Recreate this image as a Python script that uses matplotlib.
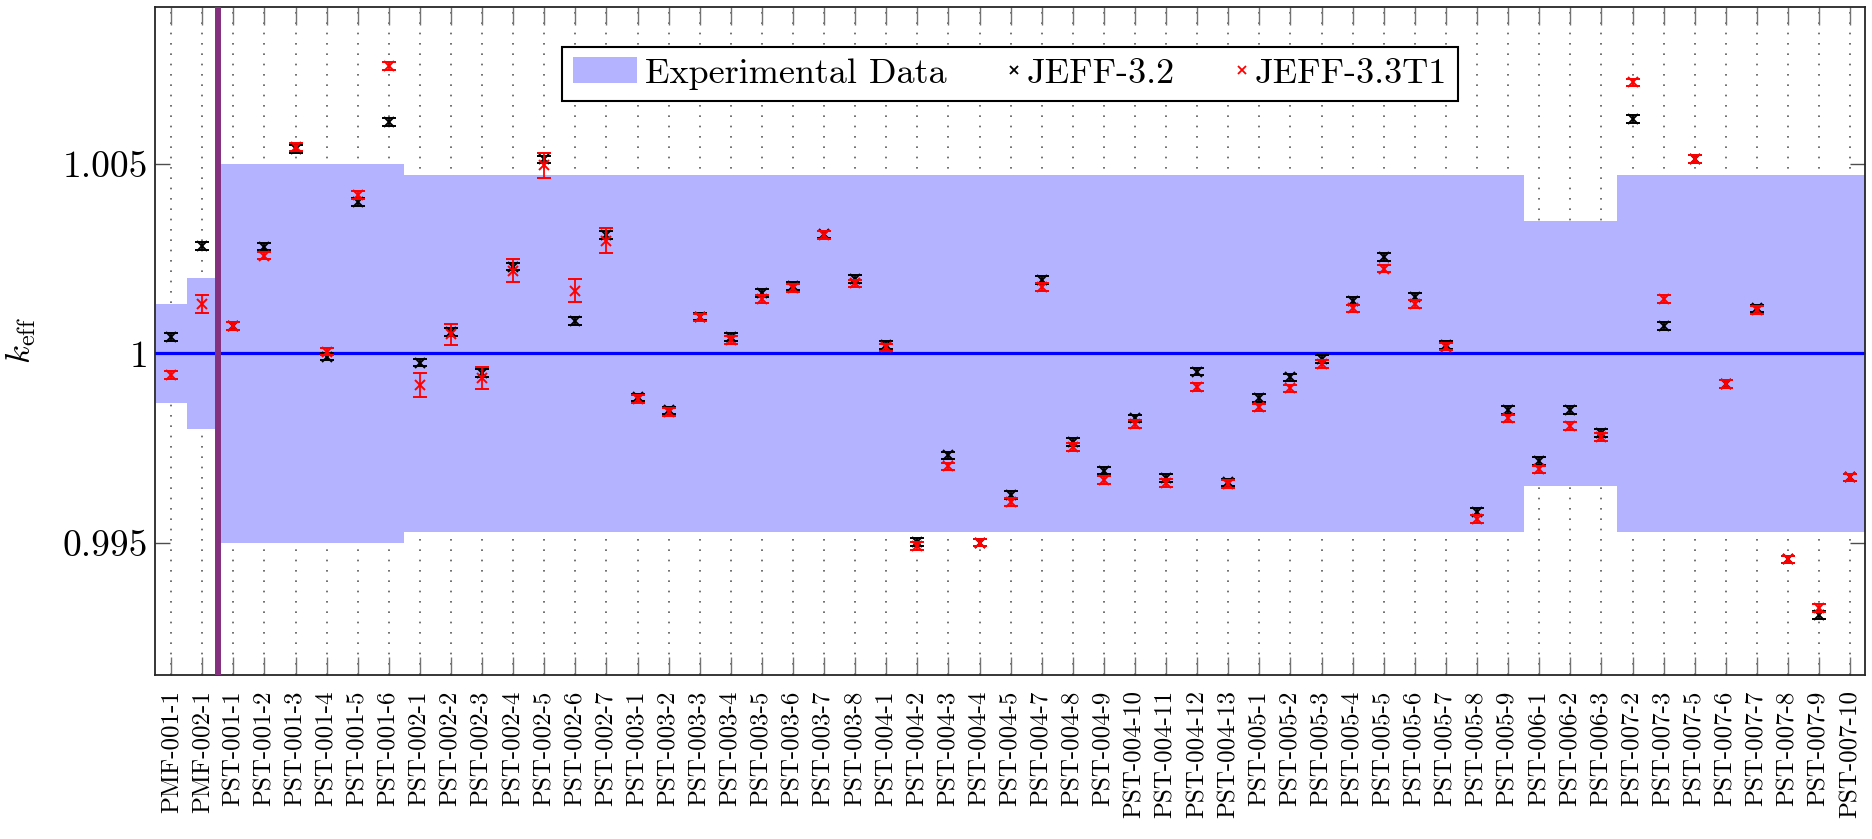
import numpy as np
import matplotlib
matplotlib.use("Agg")
import matplotlib.pyplot as plt
from matplotlib.lines import Line2D
from matplotlib.patches import Patch
from matplotlib.legend_handler import HandlerBase

plt.rcParams.update({
    "font.family": "serif",
    "font.serif": ["cmr10"],
    "mathtext.fontset": "cm",
    "axes.formatter.use_mathtext": True,
    "axes.unicode_minus": False,
})

# benchmark cases (x axis)
cases = [
    "PMF-001-1", "PMF-002-1",
    "PST-001-1", "PST-001-2", "PST-001-3", "PST-001-4", "PST-001-5", "PST-001-6",
    "PST-002-1", "PST-002-2", "PST-002-3", "PST-002-4", "PST-002-5", "PST-002-6", "PST-002-7",
    "PST-003-1", "PST-003-2", "PST-003-3", "PST-003-4", "PST-003-5", "PST-003-6", "PST-003-7",
    "PST-003-8",
    "PST-004-1", "PST-004-2", "PST-004-3", "PST-004-4", "PST-004-5", "PST-004-7", "PST-004-8",
    "PST-004-9", "PST-004-10", "PST-004-11", "PST-004-12", "PST-004-13",
    "PST-005-1", "PST-005-2", "PST-005-3", "PST-005-4", "PST-005-5", "PST-005-6", "PST-005-7",
    "PST-005-8", "PST-005-9",
    "PST-006-1", "PST-006-2", "PST-006-3",
    "PST-007-2", "PST-007-3", "PST-007-5", "PST-007-6", "PST-007-7", "PST-007-8", "PST-007-9",
    "PST-007-10",
]

# experimental 1-sigma uncertainty on k_eff (band around 1)
exp_unc = [
    0.0013, 0.0020,
    0.0050, 0.0050, 0.0050, 0.0050, 0.0050, 0.0050,
    0.0047, 0.0047, 0.0047, 0.0047, 0.0047, 0.0047, 0.0047,
    0.0047, 0.0047, 0.0047, 0.0047, 0.0047, 0.0047, 0.0047, 0.0047,
    0.0047, 0.0047, 0.0047, 0.0047, 0.0047, 0.0047, 0.0047, 0.0047, 0.0047, 0.0047,
    0.0047, 0.0047,
    0.0047, 0.0047, 0.0047, 0.0047, 0.0047, 0.0047, 0.0047, 0.0047, 0.0047,
    0.0035, 0.0035, 0.0035,
    0.0047, 0.0047, 0.0047, 0.0047, 0.0047, 0.0047, 0.0047, 0.0047,
]

k_jeff32 = [
    1.00043, 1.00284,
    1.00073, 1.00282, 1.00540, 0.99992, 1.00400, 1.00610,
    0.99976, 1.00056, 0.99948, 1.00229, 1.00512, 1.00086, 1.00313,
    0.99884, 0.99850, 1.00097, 1.00043, 1.00160, 1.00178, 1.00314, 1.00196,
    1.00022, 0.99502, 0.99731, 0.99501, 0.99627, 1.00194, 0.99767, 0.99691, 0.99829, 0.99671,
    0.99952, 0.99660,
    0.99882, 0.99937, 0.99985, 1.00138, 1.00255, 1.00150, 1.00022, 0.99583, 0.99851,
    0.99716, 0.99851, 0.99791,
    1.00618, 1.00073, 1.00513, 0.99920, 1.00119, 0.99457, 0.99310, 0.99673,
]
err_jeff32 = [0.0001] * len(k_jeff32)

k_jeff33 = [
    0.99943, 1.00131,
    1.00073, 1.00258, 1.00545, 1.00005, 1.00418, 1.00759,
    0.99917, 1.00051, 0.99935, 1.00218, 1.00496, 1.00166, 1.00298,
    0.99880, 0.99846, 1.00095, 1.00036, 1.00143, 1.00172, 1.00312, 1.00185,
    1.00016, 0.99492, 0.99702, 0.99501, 0.99609, 1.00175, 0.99754, 0.99666, 0.99814, 0.99658,
    0.99911, 0.99656,
    0.99858, 0.99908, 0.99972, 1.00119, 1.00224, 1.00131, 1.00018, 0.99563, 0.99829,
    0.99694, 0.99809, 0.99779,
    1.00715, 1.00143, 1.00513, 0.99920, 1.00115, 0.99457, 0.99328, 0.99673,
]
err_jeff33 = [
    0.0001, 0.00024,
    0.0001, 0.0001, 0.0001, 0.0001, 0.0001, 0.0001,
    0.00031, 0.00028, 0.00030, 0.00030, 0.00032, 0.00031, 0.00032,
    0.0001, 0.0001, 0.0001, 0.0001, 0.0001, 0.0001, 0.0001, 0.0001,
    0.0001, 0.0001, 0.0001, 0.0001, 0.0001, 0.0001, 0.0001, 0.0001, 0.0001, 0.0001,
    0.0001, 0.0001,
    0.0001, 0.0001, 0.0001, 0.0001, 0.0001, 0.0001, 0.0001, 0.0001, 0.0001,
    0.0001, 0.0001, 0.0001,
    0.0001, 0.0001, 0.0001, 0.0001, 0.0001, 0.0001, 0.0001, 0.0001,
]

BAND = "#b3b3ff"
PURPLE = "#84307f"


class MarkerAtRight(HandlerBase):
    """Legend handle with the marker pushed against the label (pgfplots look)."""

    def create_artists(self, legend, orig_handle, xdescent, ydescent,
                       width, height, fontsize, trans):
        xm = -xdescent + width - 0.12 * fontsize
        ym = -ydescent + 0.5 * height
        m = Line2D([xm], [ym], ls="none", marker=orig_handle.get_marker(),
                   color=orig_handle.get_color(), ms=orig_handle.get_markersize(),
                   mew=orig_handle.get_markeredgewidth(), transform=trans)
        return [m]


x = np.arange(len(cases))
unc = np.asarray(exp_unc)

fig = plt.figure(figsize=(18.72, 8.39), dpi=100)
ax = fig.add_axes([0.0828, 0.1955, 0.9135, 0.7962])

# experimental band as steps centred on each case
edges = np.arange(len(cases) + 1) - 0.5
ax.stairs(1 + unc, edges, baseline=1 - unc, fill=True, color=BAND, lw=0, zorder=1)
ax.axhline(1.0, color="blue", lw=2.3, zorder=2)
ax.axvline(1.5, color=PURPLE, lw=4.3, zorder=3)

ax.errorbar(x, k_jeff32, yerr=err_jeff32, fmt="x", color="black", ms=6.5, mew=1.4,
            elinewidth=1.3, capsize=5, capthick=1.4, zorder=4)
ax.errorbar(x, k_jeff33, yerr=err_jeff33, fmt="x", color="red", ms=6.5, mew=1.4,
            elinewidth=1.3, capsize=5, capthick=1.4, zorder=5)

ax.set_xlim(-0.52, len(cases) - 0.52)
ax.set_ylim(0.99152, 1.00914)
ax.set_xticks(x)
ax.set_xticklabels(cases, rotation=90, fontsize=18)
ax.set_yticks([0.995, 1.0, 1.005])
ax.set_yticklabels(["0.995", "1", "1.005"], fontsize=27)
ax.set_ylabel(r"$k_{\rm eff}$", fontsize=25, labelpad=18)

ax.set_axisbelow(True)
ax.grid(True, axis="x", color="0.35", lw=1.2, ls=(0, (1, 5.2)))
ax.tick_params(axis="x", direction="in", top=True, length=13, width=1.0,
               color="0.45", pad=11)
ax.tick_params(axis="y", direction="in", right=True, length=11, width=1.0,
               color="0.3", pad=5)
for sp in ax.spines.values():
    sp.set_linewidth(1.3)
    sp.set_color("0.15")

band_handle = Patch(facecolor=BAND, edgecolor="none")
m32 = Line2D([], [], ls="none", marker="x", color="black", ms=6, mew=1.3)
m33 = Line2D([], [], ls="none", marker="x", color="red", ms=6, mew=1.3)
leg = ax.legend([band_handle, m32, m33], ["Experimental Data", "JEFF-3.2", "JEFF-3.3T1"],
                handler_map={m32: MarkerAtRight(), m33: MarkerAtRight()},
                loc="upper center", bbox_to_anchor=(0.5, 0.9406), ncol=3,
                fontsize=26, fancybox=False, framealpha=1, edgecolor="black",
                handlelength=1.77, handletextpad=0.24, columnspacing=0.2,
                borderpad=0.3, borderaxespad=0)
leg.get_frame().set_linewidth(1.5)

fig.savefig("out.png", dpi=100)
